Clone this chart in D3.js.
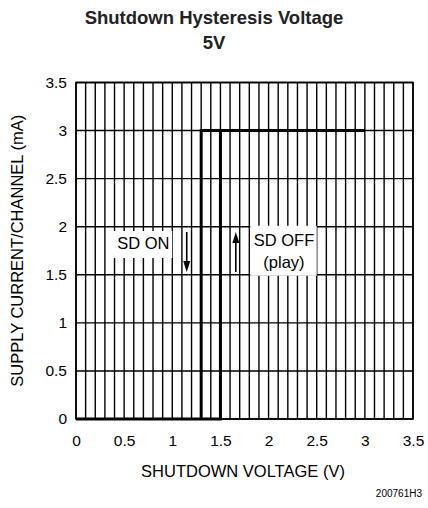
<!DOCTYPE html>
<html>
<head>
<meta charset="utf-8">
<script src="https://cdn.jsdelivr.net/npm/d3@7"></script>
<style>
  body { margin: 0; background: #fff; }
  svg { display: block; font-family: "Liberation Sans", Arial, sans-serif; }
</style>
</head>
<body>
<div id="chart"></div>
<script>
// data
const xTicks = [0, 0.5, 1, 1.5, 2, 2.5, 3, 3.5];
const yTicks = [0, 0.5, 1, 1.5, 2, 2.5, 3, 3.5];
const xGrid = d3.range(0, 36).map(i => i / 10);   // 0.1 V minor lines
// rising edge (SD OFF -> play) at 1.5 V
const offVolts = [0, 1.5, 1.5];
const offCurrent = [0, 0, 3];
// falling edge (SD ON) at 1.3 V, top plateau out to 3 V
const onVolts = [3.0, 1.3, 1.3];
const onCurrent = [3, 3, 0];

const width = 428, height = 508;
const margin = { top: 82.5, right: 15, bottom: 89, left: 76 };

const svg = d3.select("#chart").append("svg")
    .attr("width", width)
    .attr("height", height);

const x = d3.scaleLinear().domain([0, 3.5]).range([margin.left, width - margin.right]);
const y = d3.scaleLinear().domain([0, 3.5]).range([height - margin.bottom, margin.top]);

// title
svg.append("text")
    .attr("x", 214).attr("y", 24)
    .attr("text-anchor", "middle")
    .attr("font-size", 18.5).attr("font-weight", "bold")
    .attr("fill", "#222")
    .text("Shutdown Hysteresis Voltage");
svg.append("text")
    .attr("x", 214).attr("y", 49)
    .attr("text-anchor", "middle")
    .attr("font-size", 18.5).attr("font-weight", "bold")
    .attr("fill", "#222")
    .text("5V");

// grid
const grid = svg.append("g").attr("stroke", "#000").attr("stroke-width", 1.4);
grid.selectAll(".vx").data(xGrid).enter().append("line")
    .attr("x1", d => x(d)).attr("x2", d => x(d))
    .attr("y1", y(0)).attr("y2", y(3.5));
grid.selectAll(".hy").data(yTicks).enter().append("line")
    .attr("x1", x(0)).attr("x2", x(3.5))
    .attr("y1", d => y(d)).attr("y2", d => y(d));
svg.append("rect")
    .attr("x", x(0)).attr("y", y(3.5))
    .attr("width", x(3.5) - x(0)).attr("height", y(0) - y(3.5))
    .attr("fill", "none").attr("stroke", "#000").attr("stroke-width", 1.6);

// axes (labels only)
const xAxis = svg.append("g")
    .attr("transform", `translate(0,${y(0)})`)
    .call(d3.axisBottom(x).tickValues(xTicks).tickSize(0).tickPadding(16).tickFormat(d3.format("")));
const yAxis = svg.append("g")
    .attr("transform", `translate(${x(0)},0)`)
    .call(d3.axisLeft(y).tickValues(yTicks).tickSize(0).tickPadding(9).tickFormat(d3.format("")));
[xAxis, yAxis].forEach(a => {
    a.select(".domain").remove();
    a.selectAll("text").attr("font-size", 15.5).attr("fill", "#000")
        .attr("font-family", "Liberation Sans, Arial, sans-serif");
});

svg.append("text")
    .attr("x", 243).attr("y", 477)
    .attr("text-anchor", "middle")
    .attr("font-size", 16.5)
    .text("SHUTDOWN VOLTAGE (V)");
svg.append("text")
    .attr("transform", `translate(23,${(y(0) + y(3.5)) / 2}) rotate(-90)`)
    .attr("text-anchor", "middle")
    .attr("font-size", 16.5)
    .text("SUPPLY CURRENT/CHANNEL (mA)");
svg.append("text")
    .attr("x", 422).attr("y", 497)
    .attr("text-anchor", "end")
    .attr("font-size", 10)
    .text("200761H3");

// annotations with white boxes
svg.append("rect")
    .attr("x", x(0.36)).attr("y", y(1.955))
    .attr("width", x(1.0) - x(0.36)).attr("height", y(1.675) - y(1.955))
    .attr("fill", "#fff");
svg.append("text")
    .attr("x", x(0.70)).attr("y", y(1.77))
    .attr("text-anchor", "middle").attr("font-size", 16.5)
    .text("SD ON");
svg.append("rect")
    .attr("x", x(1.81)).attr("y", y(2.01))
    .attr("width", x(2.5) - x(1.81)).attr("height", y(1.49) - y(2.01))
    .attr("fill", "#fff");
svg.append("text")
    .attr("x", x(2.16)).attr("y", y(1.80))
    .attr("text-anchor", "middle").attr("font-size", 16.5)
    .text("SD OFF");
svg.append("text")
    .attr("x", x(2.16)).attr("y", y(1.57))
    .attr("text-anchor", "middle").attr("font-size", 16.5)
    .text("(play)");

// arrows: shaft + filled head
function arrow(xv, fromY, toY) {
    const x0 = x(xv), y0 = y(fromY), y1 = y(toY);
    const dir = Math.sign(y1 - y0), headLen = 11, headHalf = 3.5;
    svg.append("line")
        .attr("x1", x0).attr("x2", x0)
        .attr("y1", y0).attr("y2", y1 - dir * headLen)
        .attr("stroke", "#000").attr("stroke-width", 1.6);
    svg.append("path")
        .attr("d", `M${x0 - headHalf},${y1 - dir * headLen}L${x0 + headHalf},${y1 - dir * headLen}L${x0},${y1}Z`)
        .attr("fill", "#000");
}
arrow(1.15, 1.945, 1.53);
arrow(1.66, 1.53, 1.945);

// curve
const line = d3.line().x(d => x(d[0])).y(d => y(d[1]));
svg.append("path")
    .datum(d3.zip(offVolts, offCurrent))
    .attr("d", line)
    .attr("fill", "none").attr("stroke", "#000").attr("stroke-width", 3);
svg.append("path")
    .datum(d3.zip(onVolts, onCurrent))
    .attr("d", line)
    .attr("fill", "none").attr("stroke", "#000").attr("stroke-width", 3);
</script>
</body>
</html>
